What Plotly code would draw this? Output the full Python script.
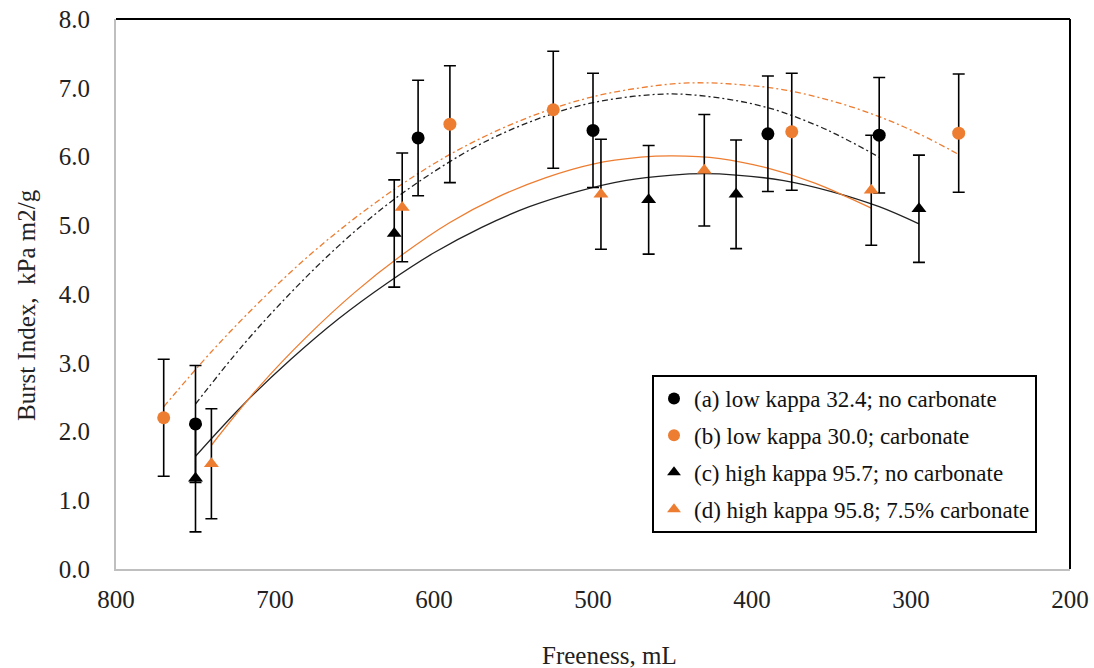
import plotly.graph_objects as go

a_x = [750, 610, 500, 390, 320]
a_y = [2.11, 6.27, 6.38, 6.33, 6.31]
a_err = [0.85, 0.84, 0.83, 0.84, 0.84]

b_x = [770, 590, 525, 375, 270]
b_y = [2.20, 6.47, 6.68, 6.36, 6.34]
b_err = [0.85, 0.85, 0.85, 0.85, 0.86]

c_x = [750, 625, 465, 410, 295]
c_y = [1.32, 4.88, 5.37, 5.45, 5.24]
c_err = [0.78, 0.78, 0.79, 0.79, 0.78]

d_x = [740, 620, 495, 430, 325]
d_y = [1.53, 5.26, 5.45, 5.80, 5.51]
d_err = [0.80, 0.79, 0.80, 0.81, 0.80]

# ---- trend lines ----
ta_x = [750, 720, 690, 660, 630, 600, 570, 540, 510, 480, 450, 420, 390, 360, 340, 320]
ta_y = [2.40, 3.26, 4.02, 4.70, 5.29, 5.78, 6.19, 6.50, 6.73, 6.86, 6.91, 6.85, 6.71, 6.46, 6.24, 5.99]

tb_x = [770, 740, 710, 680, 650, 620, 590, 560, 530, 500, 470, 440, 410, 380, 350, 320, 295, 270]
tb_y = [2.36, 3.16, 3.88, 4.53, 5.10, 5.60, 6.03, 6.38, 6.66, 6.87, 7.00, 7.07, 7.05, 6.97, 6.81, 6.58, 6.33, 6.03]

tc_x = [750, 720, 690, 660, 630, 600, 570, 540, 510, 480, 450, 430, 410, 380, 350, 320, 295]
tc_y = [1.64, 2.39, 3.05, 3.64, 4.15, 4.60, 4.97, 5.27, 5.49, 5.65, 5.73, 5.75, 5.73, 5.65, 5.49, 5.27, 5.02]

td_x = [740, 710, 680, 650, 620, 590, 560, 530, 500, 470, 450, 420, 390, 360, 340, 325]
td_y = [1.80, 2.65, 3.38, 4.02, 4.57, 5.04, 5.41, 5.69, 5.89, 5.99, 6.01, 5.97, 5.83, 5.61, 5.41, 5.25]

labels = [
    "(a) low kappa 32.4; no carbonate",
    "(b) low kappa 30.0; carbonate",
    "(c) high kappa 95.7; no carbonate",
    "(d) high kappa 95.8; 7.5% carbonate",
]

x_ticks = [800, 700, 600, 500, 400, 300, 200]
y_ticks = [0, 1, 2, 3, 4, 5, 6, 7, 8]

BLACK = "#000000"
ORANGE = "#ED7D31"
FONT = "Times New Roman, Liberation Serif, DejaVu Serif, serif"

fig = go.Figure()

# trend lines
dashdot = "6px,3px,2px,3px"
for tx, ty, col, dash in [
    (ta_x, ta_y, "#222222", dashdot),
    (tb_x, tb_y, ORANGE, dashdot),
    (tc_x, tc_y, "#222222", "solid"),
    (td_x, td_y, ORANGE, "solid"),
]:
    fig.add_trace(go.Scatter(
        x=tx, y=ty, mode="lines", line=dict(color=col, width=1.3, dash=dash, shape="spline"),
        showlegend=False, hoverinfo="skip"))

# data series
series = [
    (a_x, a_y, a_err, BLACK, "circle"),
    (b_x, b_y, b_err, ORANGE, "circle"),
    (c_x, c_y, c_err, BLACK, "triangle-up"),
    (d_x, d_y, d_err, ORANGE, "triangle-up"),
]
for i, (sx, sy, se, col, sym) in enumerate(series):
    fig.add_trace(go.Scatter(
        x=sx, y=sy, mode="markers", name=labels[i], legendgroup=f"g{i}",
        marker=dict(color=col, symbol=sym, size=13, line=dict(width=0)),
        error_y=dict(type="data", array=se, visible=True, color=BLACK, thickness=1.6, width=6),
    ))

fig.update_layout(
    width=1094, height=668,
    margin=dict(l=116, r=24, t=19, b=99, autoexpand=False),
    paper_bgcolor="white", plot_bgcolor="white",
    font=dict(family=FONT, size=24, color="#222222"),
    showlegend=True,
    legend=dict(
        x=(652 - 116) / 954, y=(569 - 375) / 550, xanchor="left", yanchor="top",
        bgcolor="white", bordercolor=BLACK, borderwidth=2,
        font=dict(family=FONT, size=23, color="#111111"),
        traceorder="grouped", tracegroupgap=4, itemsizing="constant",
    ),
    xaxis=dict(
        range=[800, 200], tickvals=x_ticks, ticktext=[str(v) for v in x_ticks],
        showgrid=False, zeroline=False, showline=True, linecolor="#BFBFBF", linewidth=2,
        ticks="", tickfont=dict(family=FONT, size=25, color="#222222"), ticklabelstandoff=7,
        automargin=False,
    ),
    yaxis=dict(
        range=[0, 8], tickvals=y_ticks, ticktext=[f"{v:.1f}" for v in y_ticks],
        showgrid=False, zeroline=False, showline=True, linecolor="#BFBFBF", linewidth=2,
        ticks="", tickfont=dict(family=FONT, size=25, color="#222222"), ticklabelstandoff=19,
        automargin=False,
    ),
    shapes=[
        dict(type="line", xref="paper", yref="paper", x0=0, x1=1, y0=1, y1=1,
             line=dict(color=BLACK, width=2)),
        dict(type="line", xref="paper", yref="paper", x0=1, x1=1, y0=0, y1=1,
             line=dict(color=BLACK, width=2)),
    ],
    annotations=[
        dict(text="Freeness, mL", xref="paper", yref="paper",
             x=(609 - 116) / 954, y=(569 - 655) / 550, xanchor="center", yanchor="middle",
             showarrow=False, font=dict(family=FONT, size=25, color="#222222")),
        dict(text="Burst Index,  kPa m2/g", xref="paper", yref="paper",
             x=(26 - 116) / 954, y=(569 - 305) / 550, xanchor="center", yanchor="middle",
             textangle=-90, showarrow=False, font=dict(family=FONT, size=25, color="#222222")),
    ],
)

fig.write_html(
    "out.html",
    config={"displayModeBar": False},
    post_script="document.body.style.margin='0';document.body.style.padding='0';",
)
